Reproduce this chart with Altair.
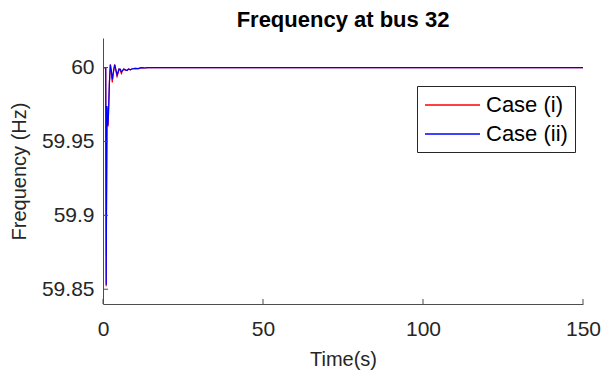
import altair as alt
import pandas as pd

# Case (ii) (blue) and Case (i) (red)
time_s = [0, 0.85, 1.0, 1.08, 1.25, 1.4, 1.55, 1.7, 2.0, 2.3, 2.6, 2.9, 3.3, 3.65, 4.0,
          4.4, 4.7, 5.0, 5.4, 5.75, 6.1, 6.5, 7.0, 7.5, 8.0, 8.5, 9.0, 10, 11, 12,
          13, 14, 15, 20, 150]
freq_ii = [60, 60, 59.853, 59.90, 59.974, 59.963, 59.961, 59.968, 59.99, 60.002, 59.998,
           59.992, 59.998, 60.002, 59.999, 59.995, 59.997, 59.999, 59.999, 59.997,
           59.998, 59.999, 59.9985, 59.998, 59.999, 59.9985, 59.999, 59.9995,
           59.9993, 60.0, 59.9997, 60.0, 60.0, 60.0, 60.0]
freq_i = [60, 60, 59.852, 59.90, 59.973, 59.962, 59.960, 59.967, 59.989, 60.002, 59.997,
          59.990, 59.997, 60.002, 59.998, 59.994, 59.996, 59.999, 59.998, 59.996,
          59.998, 59.999, 59.998, 59.998, 59.999, 59.9985, 59.999, 59.9995,
          59.9993, 60.0, 59.9997, 60.0, 60.0, 60.0, 60.0]

series_names = ["Case (i)", "Case (ii)"]
series_colors = ["#FF0000", "#0000FF"]

x_ticks = [0, 50, 100, 150]
y_ticks = [59.85, 59.9, 59.95, 60]

rows = []
for t, f in zip(time_s, freq_i):
    rows.append({"t": t, "f": f, "case": series_names[0]})
for t, f in zip(time_s, freq_ii):
    rows.append({"t": t, "f": f, "case": series_names[1]})
df = pd.DataFrame(rows)

W, H = 480, 266
FONT = "Liberation Sans"
TXT = "#262626"
AX = "#4d4d4d"

xscale = alt.Scale(domain=[0, 150], nice=False, zero=False)
yscale = alt.Scale(domain=[59.84, 60.02], nice=False, zero=False)

lines = alt.Chart(df).mark_line(strokeWidth=1.2, clip=True).encode(
    x=alt.X("t:Q", scale=xscale, title="Time(s)",
            axis=alt.Axis(values=x_ticks, ticks=False, grid=False, domainColor=AX,
                          labelFontSize=21, titleFontSize=20, labelColor=TXT,
                          titleColor=TXT, labelPadding=14, titlePadding=10,
                          labelFlush=False, labelOverlap=False,
                          labelFont=FONT, titleFont=FONT, titleFontWeight="normal")),
    y=alt.Y("f:Q", scale=yscale, title="Frequency (Hz)",
            axis=alt.Axis(values=y_ticks, format="~g", ticks=False, grid=False,
                          domainColor=AX, labelFontSize=21, titleFontSize=20,
                          labelColor=TXT, titleColor=TXT, labelPadding=9,
                          titlePadding=12, labelFont=FONT, titleFont=FONT,
                          titleFontWeight="normal")),
    color=alt.Color("case:N", scale=alt.Scale(domain=series_names, range=series_colors),
                    legend=alt.Legend(title=None, orient="none", legendX=314, legendY=48,
                                      symbolType="M-1,0H4", symbolSize=484,
                                      symbolStrokeWidth=1.3, labelFontSize=22,
                                      labelFont=FONT, labelColor="#000000",
                                      strokeColor="#262626", fillColor="white",
                                      padding=7, rowPadding=6, labelOffset=38,
                                      offset=0)),
    order=alt.Order("t:Q"),
)

xt = pd.DataFrame({"v": x_ticks})
yt = pd.DataFrame({"v": y_ticks})
xtick_marks = alt.Chart(xt).mark_rule(color=AX, strokeWidth=1).encode(
    x=alt.X("v:Q", scale=xscale), y=alt.value(H), y2=alt.value(H - 5))
ytick_marks = alt.Chart(yt).mark_rule(color=AX, strokeWidth=1).encode(
    y=alt.Y("v:Q", scale=yscale), x=alt.value(0), x2=alt.value(5))

chart = alt.layer(lines, xtick_marks, ytick_marks).properties(
    width=W, height=H,
    title=alt.TitleParams("Frequency at bus 32", fontSize=22, font=FONT,
                          fontWeight="bold", color="#000000", anchor="middle", offset=6),
    autosize=alt.AutoSizeParams(type="none"),
    padding={"left": 95, "top": 30, "right": 22, "bottom": 67},
).configure_view(stroke=None).configure_axis(domainWidth=1)

chart.save("out.html", embed_options={"renderer": "svg", "actions": False})
